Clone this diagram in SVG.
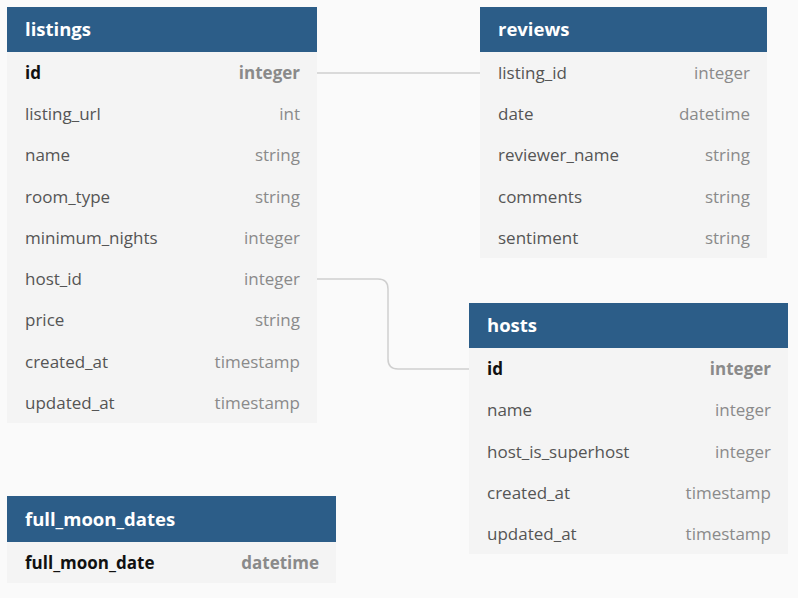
<svg xmlns="http://www.w3.org/2000/svg" width="798" height="598" viewBox="0 0 798 598">
<style>
.body{fill:#f4f4f4}
.head{fill:#2c5d88}
.title{font-family:"Open Sans",sans-serif;font-size:18.5px;font-weight:bold;fill:#ffffff}
.f{font-family:"Open Sans",sans-serif;font-size:17px;fill:#555555}
.t{font-family:"Open Sans",sans-serif;font-size:17px;fill:#8a8a8a;text-anchor:end}
.fk{font-family:"Open Sans",sans-serif;font-size:17px;font-weight:bold;fill:#111111}
.tk{font-family:"Open Sans",sans-serif;font-size:17px;font-weight:bold;fill:#8a8a8a;text-anchor:end}
.conn{fill:none;stroke:#cfcfcf;stroke-width:1.5}
</style>
<rect width="798" height="598" fill="#fafafa"/>
<g id="connectors">
<path class="conn" d="M317 73 H480"/>
<path class="conn" d="M317 279 H378 Q388 279 388 289 V359 Q388 369 398 369 H469"/>
</g>
<g id="listings">
<rect class="body" x="7" y="52" width="310" height="371"/>
<rect class="head" x="7" y="7" width="310" height="45"/>
<text class="title" x="25" y="36">listings</text>
<text class="fk" x="25" y="79">id</text><text class="tk" x="300" y="79">integer</text>
<text class="f" x="25" y="120">listing_url</text><text class="t" x="300" y="120">int</text>
<text class="f" x="25" y="161">name</text><text class="t" x="300" y="161">string</text>
<text class="f" x="25" y="203">room_type</text><text class="t" x="300" y="203">string</text>
<text class="f" x="25" y="244">minimum_nights</text><text class="t" x="300" y="244">integer</text>
<text class="f" x="25" y="285">host_id</text><text class="t" x="300" y="285">integer</text>
<text class="f" x="25" y="326">price</text><text class="t" x="300" y="326">string</text>
<text class="f" x="25" y="368">created_at</text><text class="t" x="300" y="368">timestamp</text>
<text class="f" x="25" y="409">updated_at</text><text class="t" x="300" y="409">timestamp</text>
</g>
<g id="reviews">
<rect class="body" x="480" y="52" width="287" height="206"/>
<rect class="head" x="480" y="7" width="287" height="45"/>
<text class="title" x="498" y="36">reviews</text>
<text class="f" x="498" y="79">listing_id</text><text class="t" x="750" y="79">integer</text>
<text class="f" x="498" y="120">date</text><text class="t" x="750" y="120">datetime</text>
<text class="f" x="498" y="161">reviewer_name</text><text class="t" x="750" y="161">string</text>
<text class="f" x="498" y="203">comments</text><text class="t" x="750" y="203">string</text>
<text class="f" x="498" y="244">sentiment</text><text class="t" x="750" y="244">string</text>
</g>
<g id="hosts">
<rect class="body" x="469" y="348" width="319" height="206"/>
<rect class="head" x="469" y="303" width="319" height="45"/>
<text class="title" x="487" y="332">hosts</text>
<text class="fk" x="487" y="375">id</text><text class="tk" x="771" y="375">integer</text>
<text class="f" x="487" y="416">name</text><text class="t" x="771" y="416">integer</text>
<text class="f" x="487" y="458">host_is_superhost</text><text class="t" x="771" y="458">integer</text>
<text class="f" x="487" y="499">created_at</text><text class="t" x="771" y="499">timestamp</text>
<text class="f" x="487" y="540">updated_at</text><text class="t" x="771" y="540">timestamp</text>
</g>
<g id="full_moon_dates">
<rect class="body" x="7" y="542" width="329" height="41"/>
<rect class="head" x="7" y="496" width="329" height="46"/>
<text class="title" x="25" y="526">full_moon_dates</text>
<text class="fk" x="25" y="569">full_moon_date</text><text class="tk" x="319" y="569">datetime</text>
</g>
</svg>
